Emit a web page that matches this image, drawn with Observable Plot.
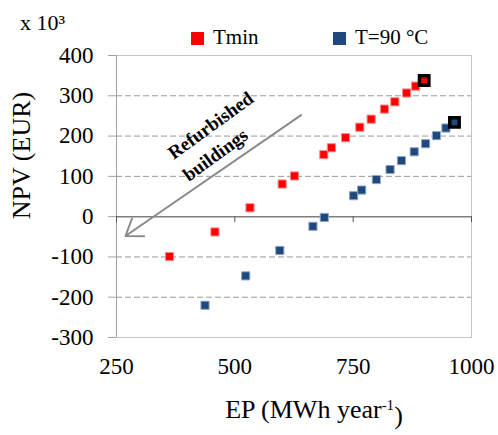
<!DOCTYPE html>
<html><head><meta charset="utf-8">
<script src="https://cdn.jsdelivr.net/npm/d3@7"></script>
<script src="https://cdn.jsdelivr.net/npm/@observablehq/plot@0.6"></script>
<style>
body{margin:0;background:#fff;font-family:"Liberation Serif",serif;}
#wrap{position:relative;width:498px;height:435px;overflow:hidden;}
#wrap svg{position:absolute;left:0;top:0;}
#wrap svg text{font-family:"Liberation Serif",serif;}
.lg{position:absolute;font-family:"Liberation Serif",serif;font-size:21px;line-height:21px;color:#000;white-space:nowrap;}
.sw{position:absolute;width:13px;height:13px;}
.unit{position:absolute;left:20px;top:12px;font-family:"Liberation Serif",serif;font-size:22px;line-height:22px;white-space:nowrap;}
</style></head><body>
<div id="wrap"></div>
<script>
// ---- data ----
const seriesNames = ["Tmin", "T=90 °C"];
const seriesColors = ["#ff0000", "#1f497d"];
const seriesHalo = ["#ff8a8a", "#8ea6c6"];
const tminEP  = [362, 458, 532, 600, 626, 688, 704, 734, 764, 788, 816, 838, 863, 882, 900];
const tminNPV = [-99, -38, 22, 81, 101, 154, 171, 196, 222, 242, 267, 285, 307, 324, 338];
const t90EP   = [437, 523, 595, 665, 689, 751, 768, 799, 828, 852, 879, 903, 926, 946, 964];
const t90NPV  = [-220, -147, -84, -24, -2, 52, 66, 92, 117, 139, 161, 181, 201, 220, 234];
const xTicks = [250, 500, 750, 1000];
const yTicks = [-300, -200, -100, 0, 100, 200, 300, 400];
const gridValues = [-200, -100, 100, 200, 300];
const arrowEP = [640, 269];
const arrowNPV = [252, -48];
const noteLines = ["Refurbished", "buildings"];
const noteEP = [449, 459];
const noteNPV = [226, 153];
const xTitle = "EP (MWh year";
const xTitleSup = "-1";
const yTitle = "NPV (EUR)";
const unitLabel = "x 10³";

const FONT = "Liberation Serif";

// ---- build tables ----
const rows = [];
[[tminEP, tminNPV], [t90EP, t90NPV]].forEach(([xs, ys], s) =>
  xs.forEach((x, i) => rows.push({ep: x, npv: ys[i], s, last: i === xs.length - 1})));
const lastRows = rows.filter(d => d.last);
const arrowData = [{x1: arrowEP[0], y1: arrowNPV[0], x2: arrowEP[1], y2: arrowNPV[1]}];
const notes = noteLines.map((t, i) => ({t, x: noteEP[i], y: noteNPV[i]}));
const fmt = d => String(d).replace("−", "-");

const plot = Plot.plot({
  width: 498, height: 435,
  marginLeft: 116, marginRight: 27, marginTop: 55, marginBottom: 98,
  style: {fontFamily: FONT, fontSize: "23px", background: "white", color: "black"},
  x: {domain: [250, 1000]},
  y: {domain: [-300, 400]},
  marks: [
    Plot.ruleY(gridValues, {stroke: "#999", strokeDasharray: "6,3", strokeWidth: 1}),
    Plot.frame({stroke: "#c4c4c4"}),
    Plot.ruleX([250], {stroke: "#a0a0a0"}),
    Plot.axisY({ticks: yTicks, tickSize: 8, tickPadding: 15, stroke: "#a0a0a0", fill: "black", fontSize: 23, fontFamily: FONT, label: null, tickFormat: fmt}),
    Plot.axisX({ticks: xTicks, tickSize: 0, tickPadding: 20, fill: "black", fontSize: 23, fontFamily: FONT, label: null, tickFormat: fmt}),
    Plot.ruleY([0], {stroke: "#7f7f7f", strokeWidth: 1.5}),
    Plot.ruleX(xTicks, {y1: 0, y2: 0, insetBottom: -6, stroke: "#555", strokeWidth: 1}),
    Plot.arrow(arrowData, {x1: "x1", y1: "y1", x2: "x2", y2: "y2", stroke: "#8a8a8a", strokeWidth: 2, headLength: 14, headAngle: 70}),
    Plot.text(notes, {x: "x", y: "y", text: "t", rotate: -36, fontSize: 19, fontWeight: "bold", fontFamily: FONT, fill: "black"}),
    Plot.dot(rows, {x: "ep", y: "npv", symbol: "square", r: 4.6, fill: d => seriesColors[d.s], stroke: d => seriesHalo[d.s], strokeWidth: 1}),
    Plot.dot(lastRows, {x: "ep", y: "npv", symbol: "square", r: 5.3, fill: d => seriesColors[d.s], stroke: "black", strokeWidth: 3.5}),
    Plot.text([yTitle], {frameAnchor: "left", text: d => d, rotate: -90, textAnchor: "middle", lineAnchor: "middle", dx: -95, dy: -41, fontSize: 26, fontFamily: FONT, fill: "black"}),
    Plot.text([xTitle], {frameAnchor: "bottom", text: d => d, textAnchor: "middle", lineAnchor: "middle", dx: 20, dy: 72, fontSize: 26, fontFamily: FONT, fill: "black"})
  ]
});

// superscript on x title
d3.select(plot).selectAll("text").filter(function() { return this.textContent === xTitle; })
  .each(function() {
    const t = d3.select(this);
    t.text(xTitle);
    t.append("tspan").attr("dy", "-0.55em").attr("font-size", "15px").text(xTitleSup);
    t.append("tspan").attr("dy", "0.55em").text(")");
  });

const wrap = document.getElementById("wrap");
wrap.appendChild(plot);

// unit label
const u = document.createElement("div");
u.className = "unit"; u.textContent = unitLabel; wrap.appendChild(u);

// legend
const legendX = [191, 333];
seriesNames.forEach((n, i) => {
  const sw = document.createElement("div");
  sw.className = "sw"; sw.style.left = legendX[i] + "px"; sw.style.top = "32px"; sw.style.background = seriesColors[i];
  wrap.appendChild(sw);
  const t = document.createElement("div");
  t.className = "lg"; t.style.left = (legendX[i] + 22) + "px"; t.style.top = "27px"; t.textContent = n;
  wrap.appendChild(t);
});
</script>
</body></html>
